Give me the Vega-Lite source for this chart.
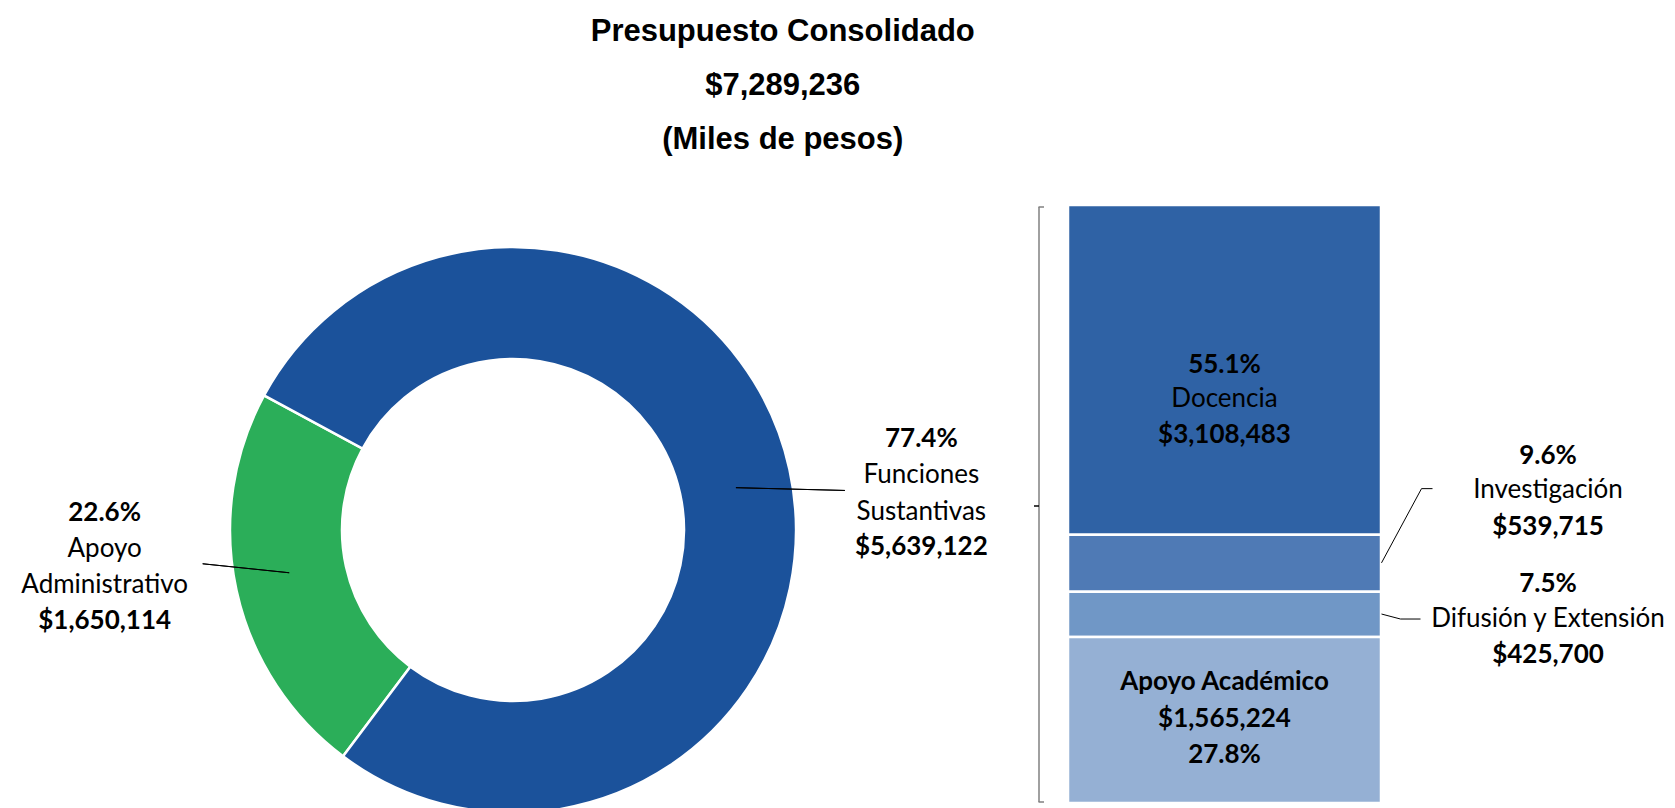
{
  "$schema": "https://vega.github.io/schema/vega-lite/v6.json",
  "padding": {"left": 0, "top": 15, "right": 0, "bottom": 0},
  "background": "white",
  "title": {
    "text": ["Presupuesto Consolidado", "$7,289,236", "(Miles de pesos)"],
    "font": "Liberation Sans",
    "fontSize": 31,
    "fontWeight": "bold",
    "color": "#000000",
    "lineHeight": 54,
    "anchor": "middle",
    "offset": 48,
    "dx": -50
  },
  "datasets": {
    "consolidado": [
      {"categoria": "Apoyo Administrativo", "valor": 1650114, "porcentaje": 0.226},
      {"categoria": "Funciones Sustantivas", "valor": 5639122, "porcentaje": 0.774}
    ],
    "funciones": [
      {"grupo": "Funciones Sustantivas", "categoria": "Docencia", "valor": 3108483, "porcentaje": 0.551, "orden": 4},
      {"grupo": "Funciones Sustantivas", "categoria": "Investigación", "valor": 539715, "porcentaje": 0.096, "orden": 3},
      {"grupo": "Funciones Sustantivas", "categoria": "Difusión y Extensión", "valor": 425700, "porcentaje": 0.075, "orden": 2},
      {"grupo": "Funciones Sustantivas", "categoria": "Apoyo Académico", "valor": 1565224, "porcentaje": 0.278, "orden": 1}
    ]
  },
  "spacing": 7,
  "resolve": {"scale": {"color": "independent"}},
  "hconcat": [
    {
      "width": 1026,
      "height": 650,
      "data": {"name": "consolidado"},
      "layer": [
        {
          "mark": {"type": "arc", "innerRadius": 171, "outerRadius": 283, "stroke": "#ffffff", "strokeWidth": 2.5},
          "encoding": {
            "theta": {"field": "valor", "type": "quantitative", "stack": true, "scale": {"domain": [0, 7289236], "range": [3.7857, 10.0689]}},
            "order": {"field": "categoria", "type": "ordinal", "sort": "ascending"},
            "color": {"field": "categoria", "type": "nominal", "scale": {"domain": ["Apoyo Administrativo", "Funciones Sustantivas"], "range": ["#2BAE59", "#1B529B"]}, "legend": null}
          }
        },
        {
          "transform": [
            {"stack": "valor", "groupby": [], "sort": [{"field": "categoria", "order": "ascending"}], "as": ["v0", "v1"]},
            {"fold": ["v0", "v1"], "as": ["extremo", "v"]},
            {"aggregate": [{"op": "mean", "field": "v", "as": "medio"}], "groupby": ["categoria"]},
            {"filter": "datum.categoria === 'Funciones Sustantivas'"}
          ],
          "mark": {"type": "arc", "innerRadius": 223, "outerRadius": 332, "filled": false, "stroke": "#000000", "strokeWidth": 1, "yOffset": -48, "thetaOffset": 0.241, "theta2Offset": 0.241},
          "encoding": {
            "theta": {"field": "medio", "type": "quantitative"},
            "theta2": {"field": "medio"}
          }
        },
        {
          "transform": [
            {"stack": "valor", "groupby": [], "sort": [{"field": "categoria", "order": "ascending"}], "as": ["v0", "v1"]},
            {"fold": ["v0", "v1"], "as": ["extremo", "v"]},
            {"aggregate": [{"op": "mean", "field": "v", "as": "medio"}], "groupby": ["categoria"]},
            {"filter": "datum.categoria === 'Apoyo Administrativo'"}
          ],
          "mark": {"type": "arc", "innerRadius": 225, "outerRadius": 312, "filled": false, "stroke": "#000000", "strokeWidth": 1, "yOffset": 66, "thetaOffset": 0.319, "theta2Offset": 0.319},
          "encoding": {
            "theta": {"field": "medio", "type": "quantitative"},
            "theta2": {"field": "medio"}
          }
        },
        {
          "mark": {"type": "text", "font": "Lato", "fontSize": 26, "fontWeight": "bold", "color": "#000000", "radius": 410, "thetaOffset": 0.126, "dy": -54, "align": "center", "baseline": "middle"},
          "encoding": {
            "theta": {"field": "valor", "type": "quantitative", "stack": true},
            "order": {"field": "categoria", "type": "ordinal", "sort": "ascending"},
            "text": {"field": "porcentaje", "type": "quantitative", "format": ".1%"}
          }
        },
        {
          "mark": {"type": "text", "font": "Lato", "fontSize": 26, "fontWeight": "normal", "color": "#000000", "radius": 410, "thetaOffset": 0.126, "dy": -18, "align": "center", "baseline": "middle", "lineBreak": " ", "lineHeight": 36.5},
          "encoding": {
            "theta": {"field": "valor", "type": "quantitative", "stack": true},
            "order": {"field": "categoria", "type": "ordinal", "sort": "ascending"},
            "text": {"field": "categoria", "type": "nominal"}
          }
        },
        {
          "mark": {"type": "text", "font": "Lato", "fontSize": 26, "fontWeight": "bold", "color": "#000000", "radius": 410, "thetaOffset": 0.126, "dy": 54, "align": "center", "baseline": "middle"},
          "encoding": {
            "theta": {"field": "valor", "type": "quantitative", "stack": true},
            "order": {"field": "categoria", "type": "ordinal", "sort": "ascending"},
            "text": {"field": "valor", "type": "quantitative", "format": "$,.0f"}
          }
        }
      ]
    },
    {
      "width": 313,
      "height": 598,
      "data": {"name": "funciones"},
      "layer": [
        {
          "mark": {"type": "bar", "stroke": "#ffffff", "strokeWidth": 2.5},
          "encoding": {
            "x": {"field": "grupo", "type": "nominal", "axis": null, "scale": {"paddingInner": 0, "paddingOuter": 0}},
            "y": {"field": "valor", "type": "quantitative", "stack": "zero", "scale": {"domain": [0, 5639122], "nice": false}, "axis": null},
            "order": {"field": "orden", "type": "quantitative"},
            "color": {"field": "categoria", "type": "nominal", "scale": {"domain": ["Docencia", "Investigación", "Difusión y Extensión", "Apoyo Académico"], "range": ["#2F62A5", "#4F7AB5", "#7097C6", "#95B0D4"]}, "legend": null}
          }
        },
        {
          "transform": [
            {"stack": "valor", "groupby": ["grupo"], "sort": [{"field": "orden", "order": "ascending"}], "as": ["y0", "y1"]},
            {"aggregate": [{"op": "min", "field": "y0", "as": "inferior"}, {"op": "max", "field": "y1", "as": "superior"}], "groupby": ["grupo"]}
          ],
          "mark": {"type": "rule", "color": "#808080", "strokeWidth": 1.5, "xOffset": -185.5, "yOffset": -1, "y2Offset": 2},
          "encoding": {
            "x": {"field": "grupo", "type": "nominal", "axis": null},
            "y": {"field": "inferior", "type": "quantitative", "axis": null},
            "y2": {"field": "superior"}
          }
        },
        {
          "transform": [
            {"stack": "valor", "groupby": ["grupo"], "sort": [{"field": "orden", "order": "ascending"}], "as": ["y0", "y1"]},
            {"aggregate": [{"op": "min", "field": "y0", "as": "inferior"}, {"op": "max", "field": "y1", "as": "superior"}], "groupby": ["grupo"]}
          ],
          "mark": {"type": "rule", "color": "#808080", "strokeWidth": 1.5, "xOffset": -186, "x2Offset": -180.5, "yOffset": 2},
          "encoding": {
            "x": {"field": "grupo", "type": "nominal", "axis": null},
            "x2": {"field": "grupo"},
            "y": {"field": "superior", "type": "quantitative", "axis": null}
          }
        },
        {
          "transform": [
            {"stack": "valor", "groupby": ["grupo"], "sort": [{"field": "orden", "order": "ascending"}], "as": ["y0", "y1"]},
            {"aggregate": [{"op": "min", "field": "y0", "as": "inferior"}, {"op": "max", "field": "y1", "as": "superior"}], "groupby": ["grupo"]}
          ],
          "mark": {"type": "rule", "color": "#808080", "strokeWidth": 1.5, "xOffset": -186, "x2Offset": -180.5, "yOffset": -1},
          "encoding": {
            "x": {"field": "grupo", "type": "nominal", "axis": null},
            "x2": {"field": "grupo"},
            "y": {"field": "inferior", "type": "quantitative", "axis": null}
          }
        },
        {
          "transform": [
            {"stack": "valor", "groupby": ["grupo"], "sort": [{"field": "orden", "order": "ascending"}], "as": ["y0", "y1"]},
            {"aggregate": [{"op": "min", "field": "y0", "as": "inferior"}, {"op": "max", "field": "y1", "as": "superior"}], "groupby": ["grupo"]},
            {"fold": ["inferior", "superior"], "as": ["extremo", "v"]},
            {"aggregate": [{"op": "mean", "field": "v", "as": "centro"}], "groupby": ["grupo"]}
          ],
          "mark": {"type": "rule", "color": "#000000", "strokeWidth": 1.5, "xOffset": -190.5, "x2Offset": -185.5, "yOffset": 2},
          "encoding": {
            "x": {"field": "grupo", "type": "nominal", "axis": null},
            "x2": {"field": "grupo"},
            "y": {"field": "centro", "type": "quantitative", "axis": null}
          }
        },
        {
          "transform": [
            {"stack": "valor", "groupby": ["grupo"], "sort": [{"field": "orden", "order": "ascending"}], "as": ["y0", "y1"]},
            {"filter": "datum.categoria === 'Investigación'"}
          ],
          "mark": {"type": "rule", "color": "#000000", "strokeWidth": 1, "xOffset": 157, "x2Offset": 197, "yOffset": -29, "y2Offset": -46},
          "encoding": {
            "x": {"field": "grupo", "type": "nominal", "axis": null},
            "x2": {"field": "grupo"},
            "y": {"field": "y0", "type": "quantitative", "axis": null},
            "y2": {"field": "y1"}
          }
        },
        {
          "transform": [
            {"stack": "valor", "groupby": ["grupo"], "sort": [{"field": "orden", "order": "ascending"}], "as": ["y0", "y1"]},
            {"filter": "datum.categoria === 'Investigación'"}
          ],
          "mark": {"type": "rule", "color": "#000000", "strokeWidth": 1, "xOffset": 197, "x2Offset": 208, "yOffset": -46, "y2Offset": -46},
          "encoding": {
            "x": {"field": "grupo", "type": "nominal", "axis": null},
            "x2": {"field": "grupo"},
            "y": {"field": "y1", "type": "quantitative", "axis": null},
            "y2": {"field": "y1"}
          }
        },
        {
          "transform": [
            {"stack": "valor", "groupby": ["grupo"], "sort": [{"field": "orden", "order": "ascending"}], "as": ["y0", "y1"]},
            {"filter": "datum.categoria === 'Difusión y Extensión'"}
          ],
          "mark": {"type": "rule", "color": "#000000", "strokeWidth": 1, "xOffset": 157, "x2Offset": 176, "yOffset": -23, "y2Offset": -18},
          "encoding": {
            "x": {"field": "grupo", "type": "nominal", "axis": null},
            "x2": {"field": "grupo"},
            "y": {"field": "y0", "type": "quantitative", "axis": null},
            "y2": {"field": "y0"}
          }
        },
        {
          "transform": [
            {"stack": "valor", "groupby": ["grupo"], "sort": [{"field": "orden", "order": "ascending"}], "as": ["y0", "y1"]},
            {"filter": "datum.categoria === 'Difusión y Extensión'"}
          ],
          "mark": {"type": "rule", "color": "#000000", "strokeWidth": 1, "xOffset": 176, "x2Offset": 196, "yOffset": -18, "y2Offset": -18},
          "encoding": {
            "x": {"field": "grupo", "type": "nominal", "axis": null},
            "x2": {"field": "grupo"},
            "y": {"field": "y0", "type": "quantitative", "axis": null},
            "y2": {"field": "y0"}
          }
        },
        {
          "mark": {"type": "text", "font": "Lato", "fontSize": 26, "fontWeight": "bold", "color": "#000000", "dy": -5, "align": "center", "baseline": "middle"},
          "encoding": {
            "x": {"field": "grupo", "type": "nominal", "axis": null},
            "y": {"field": "valor", "type": "quantitative", "stack": "zero", "bandPosition": 0.5, "axis": null},
            "order": {"field": "orden", "type": "quantitative"},
            "text": {"condition": {"test": "datum.categoria === 'Docencia'", "field": "porcentaje", "type": "quantitative", "format": ".1%"}, "value": ""}
          }
        },
        {
          "mark": {"type": "text", "font": "Lato", "fontSize": 26, "fontWeight": "normal", "color": "#000000", "dy": 29, "align": "center", "baseline": "middle"},
          "encoding": {
            "x": {"field": "grupo", "type": "nominal", "axis": null},
            "y": {"field": "valor", "type": "quantitative", "stack": "zero", "bandPosition": 0.5, "axis": null},
            "order": {"field": "orden", "type": "quantitative"},
            "text": {"condition": {"test": "datum.categoria === 'Docencia'", "field": "categoria", "type": "nominal"}, "value": ""}
          }
        },
        {
          "mark": {"type": "text", "font": "Lato", "fontSize": 26, "fontWeight": "bold", "color": "#000000", "dy": 65, "align": "center", "baseline": "middle"},
          "encoding": {
            "x": {"field": "grupo", "type": "nominal", "axis": null},
            "y": {"field": "valor", "type": "quantitative", "stack": "zero", "bandPosition": 0.5, "axis": null},
            "order": {"field": "orden", "type": "quantitative"},
            "text": {"condition": {"test": "datum.categoria === 'Docencia'", "field": "valor", "type": "quantitative", "format": "$,.0f"}, "value": ""}
          }
        },
        {
          "mark": {"type": "text", "font": "Lato", "fontSize": 26, "fontWeight": "bold", "color": "#000000", "dy": -38, "align": "center", "baseline": "middle"},
          "encoding": {
            "x": {"field": "grupo", "type": "nominal", "axis": null},
            "y": {"field": "valor", "type": "quantitative", "stack": "zero", "bandPosition": 0.5, "axis": null},
            "order": {"field": "orden", "type": "quantitative"},
            "text": {"condition": {"test": "datum.categoria === 'Apoyo Académico'", "field": "categoria", "type": "nominal"}, "value": ""}
          }
        },
        {
          "mark": {"type": "text", "font": "Lato", "fontSize": 26, "fontWeight": "bold", "color": "#000000", "dy": -1, "align": "center", "baseline": "middle"},
          "encoding": {
            "x": {"field": "grupo", "type": "nominal", "axis": null},
            "y": {"field": "valor", "type": "quantitative", "stack": "zero", "bandPosition": 0.5, "axis": null},
            "order": {"field": "orden", "type": "quantitative"},
            "text": {"condition": {"test": "datum.categoria === 'Apoyo Académico'", "field": "valor", "type": "quantitative", "format": "$,.0f"}, "value": ""}
          }
        },
        {
          "mark": {"type": "text", "font": "Lato", "fontSize": 26, "fontWeight": "bold", "color": "#000000", "dy": 35, "align": "center", "baseline": "middle"},
          "encoding": {
            "x": {"field": "grupo", "type": "nominal", "axis": null},
            "y": {"field": "valor", "type": "quantitative", "stack": "zero", "bandPosition": 0.5, "axis": null},
            "order": {"field": "orden", "type": "quantitative"},
            "text": {"condition": {"test": "datum.categoria === 'Apoyo Académico'", "field": "porcentaje", "type": "quantitative", "format": ".1%"}, "value": ""}
          }
        },
        {
          "mark": {"type": "text", "font": "Lato", "fontSize": 26, "fontWeight": "bold", "color": "#000000", "dx": 323.5, "dy": -107, "align": "center", "baseline": "middle"},
          "encoding": {
            "x": {"field": "grupo", "type": "nominal", "axis": null},
            "y": {"field": "valor", "type": "quantitative", "stack": "zero", "bandPosition": 0.5, "axis": null},
            "order": {"field": "orden", "type": "quantitative"},
            "text": {"condition": {"test": "datum.categoria === 'Investigación'", "field": "porcentaje", "type": "quantitative", "format": ".1%"}, "value": ""}
          }
        },
        {
          "mark": {"type": "text", "font": "Lato", "fontSize": 26, "fontWeight": "normal", "color": "#000000", "dx": 323.5, "dy": -73, "align": "center", "baseline": "middle"},
          "encoding": {
            "x": {"field": "grupo", "type": "nominal", "axis": null},
            "y": {"field": "valor", "type": "quantitative", "stack": "zero", "bandPosition": 0.5, "axis": null},
            "order": {"field": "orden", "type": "quantitative"},
            "text": {"condition": {"test": "datum.categoria === 'Investigación'", "field": "categoria", "type": "nominal"}, "value": ""}
          }
        },
        {
          "mark": {"type": "text", "font": "Lato", "fontSize": 26, "fontWeight": "bold", "color": "#000000", "dx": 323.5, "dy": -36, "align": "center", "baseline": "middle"},
          "encoding": {
            "x": {"field": "grupo", "type": "nominal", "axis": null},
            "y": {"field": "valor", "type": "quantitative", "stack": "zero", "bandPosition": 0.5, "axis": null},
            "order": {"field": "orden", "type": "quantitative"},
            "text": {"condition": {"test": "datum.categoria === 'Investigación'", "field": "valor", "type": "quantitative", "format": "$,.0f"}, "value": ""}
          }
        },
        {
          "mark": {"type": "text", "font": "Lato", "fontSize": 26, "fontWeight": "bold", "color": "#000000", "dx": 323.5, "dy": -30, "align": "center", "baseline": "middle"},
          "encoding": {
            "x": {"field": "grupo", "type": "nominal", "axis": null},
            "y": {"field": "valor", "type": "quantitative", "stack": "zero", "bandPosition": 0.5, "axis": null},
            "order": {"field": "orden", "type": "quantitative"},
            "text": {"condition": {"test": "datum.categoria === 'Difusión y Extensión'", "field": "porcentaje", "type": "quantitative", "format": ".1%"}, "value": ""}
          }
        },
        {
          "mark": {"type": "text", "font": "Lato", "fontSize": 26, "fontWeight": "normal", "color": "#000000", "dx": 323.5, "dy": 5, "align": "center", "baseline": "middle"},
          "encoding": {
            "x": {"field": "grupo", "type": "nominal", "axis": null},
            "y": {"field": "valor", "type": "quantitative", "stack": "zero", "bandPosition": 0.5, "axis": null},
            "order": {"field": "orden", "type": "quantitative"},
            "text": {"condition": {"test": "datum.categoria === 'Difusión y Extensión'", "field": "categoria", "type": "nominal"}, "value": ""}
          }
        },
        {
          "mark": {"type": "text", "font": "Lato", "fontSize": 26, "fontWeight": "bold", "color": "#000000", "dx": 323.5, "dy": 41, "align": "center", "baseline": "middle"},
          "encoding": {
            "x": {"field": "grupo", "type": "nominal", "axis": null},
            "y": {"field": "valor", "type": "quantitative", "stack": "zero", "bandPosition": 0.5, "axis": null},
            "order": {"field": "orden", "type": "quantitative"},
            "text": {"condition": {"test": "datum.categoria === 'Difusión y Extensión'", "field": "valor", "type": "quantitative", "format": "$,.0f"}, "value": ""}
          }
        }
      ]
    }
  ],
  "config": {
    "view": {"stroke": null},
    "text": {"font": "Lato", "fontSize": 26, "color": "#000000"}
  }
}
